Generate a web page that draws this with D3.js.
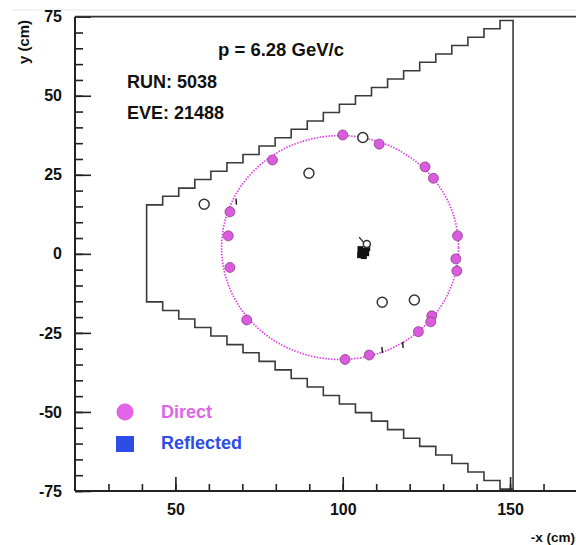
<!DOCTYPE html>
<html lang="en">
<head>
<meta charset="utf-8">
<title>RICH event display</title>
<script src="https://cdn.jsdelivr.net/npm/d3@7"></script>
<style>
  body { margin: 0; background: #fff; }
  text { font-family: "Liberation Sans", Arial, sans-serif; font-weight: bold; }
</style>
</head>
<body>
<script>

// detector outline (cm): riser positions and step levels
var stepX = [41.4, 46.2, 51.0, 55.8, 60.6, 65.4, 70.2, 75.0, 79.8, 84.6, 89.4, 94.2,
             99.0, 103.8, 108.6, 113.4, 118.2, 123.0, 127.8, 132.6, 137.4, 142.2, 147.0];
var topY  = [15.5, 18.2, 20.8, 23.5, 26.1, 28.8, 31.4, 34.1, 36.7, 39.4, 42.0, 44.7,
             47.3, 50.0, 52.6, 55.3, 57.9, 60.6, 63.2, 65.9, 68.5, 71.2, 73.8];
var botY  = [-15.2, -17.9, -20.6, -23.3, -26.0, -28.7, -31.3, -34.0, -36.7, -39.4, -42.1, -44.8,
             -47.5, -50.2, -52.9, -55.6, -58.3, -60.9, -63.6, -66.3, -69.0, -71.7, -74.4];
var rightWall = 150.9;

// fitted ring
var ring = { cx: 99.2, cy: 2.0, r: 35.4 };

// hits on the ring (direct photons)
var directX = [100.0, 110.9, 79.0, 124.6, 127.1, 66.3, 65.8, 134.3, 66.3, 133.8, 134.1,
               126.6, 126.3, 122.6, 71.3, 100.7, 107.9];
var directY = [37.6, 34.7, 29.7, 27.5, 23.9, 13.3, 5.7, 5.7, -4.3, -1.6, -5.4,
               -19.6, -21.5, -24.6, -20.9, -33.4, -32.0];

// other hits (open circles)
var otherX = [106.0, 89.9, 58.6, 111.8, 121.4, 107.2];
var otherY = [36.8, 25.5, 15.7, -15.3, -14.6, 3.1];

// track impact region (black hits)
var trackX = [105.3, 106.6, 105.6, 107.3, 106.3, 105.2, 107.0];
var trackY = [1.5, 0.9, 0.0, 1.8, -0.7, -0.4, 0.2];

// small noise strokes
var noiseX = [68.1, 111.7, 117.9];
var noiseY = [16.5, -30.4, -28.8];

var labels = ["p = 6.28 GeV/c", "RUN: 5038", "EVE: 21488"];
var legendNames = ["Direct", "Reflected"];
var legendColors = ["#e264e6", "#2d4de6"];

var W = 576, H = 545;
var x = d3.scaleLinear().domain([20, 170]).range([75, 577]);
var y = d3.scaleLinear().domain([-75, 75]).range([491, 16.7]);

var svg = d3.select("body").append("svg")
    .attr("width", W).attr("height", H);

// faint border of the scanned figure
svg.append("line").attr("x1", 12).attr("x2", W).attr("y1", 10).attr("y2", 10)
    .attr("stroke", "#e6e6e6").attr("stroke-width", 1);

// outline path
var pts = [[stepX[0], botY[0]], [stepX[0], topY[0]]];
for (var i = 1; i < stepX.length; i++) {
  pts.push([stepX[i], topY[i - 1]]);
  pts.push([stepX[i], topY[i]]);
}
pts.push([rightWall, topY[topY.length - 1]]);
pts.push([rightWall, botY[botY.length - 1]]);
for (var j = stepX.length - 1; j >= 1; j--) {
  pts.push([stepX[j], botY[j]]);
  pts.push([stepX[j], botY[j - 1]]);
}
var line = d3.line().x(function(d) { return x(d[0]); }).y(function(d) { return y(d[1]); });
svg.append("path")
    .attr("d", line(pts) + "Z")
    .attr("fill", "none")
    .attr("stroke", "#3a3a3a")
    .attr("stroke-width", 1.6);

// ring
svg.append("ellipse")
    .attr("cx", x(ring.cx)).attr("cy", y(ring.cy))
    .attr("rx", x(ring.cx + ring.r) - x(ring.cx))
    .attr("ry", y(ring.cy) - y(ring.cy + ring.r))
    .attr("fill", "none")
    .attr("stroke", "#e040e6")
    .attr("stroke-width", 1.7)
    .attr("stroke-dasharray", "1.5,1.4");

// noise strokes
svg.selectAll("line.noise").data(noiseX).enter().append("line")
    .attr("class", "noise")
    .attr("x1", function(d) { return x(d); })
    .attr("x2", function(d) { return x(d) + 0.5; })
    .attr("y1", function(d, i) { return y(noiseY[i]) - 3; })
    .attr("y2", function(d, i) { return y(noiseY[i]) + 3; })
    .attr("stroke", "#222").attr("stroke-width", 1.5);

// track hits
svg.selectAll("rect.track").data(trackX).enter().append("rect")
    .attr("class", "track")
    .attr("x", function(d) { return x(d) - 3; })
    .attr("y", function(d, i) { return y(trackY[i]) - 3; })
    .attr("width", 6).attr("height", 6)
    .attr("fill", "#111");
svg.append("line")
    .attr("x1", x(104.9)).attr("y1", y(5.3)).attr("x2", x(106.4)).attr("y2", y(3.4))
    .attr("stroke", "#222").attr("stroke-width", 1.3);

// open circles
svg.selectAll("circle.other").data(otherX).enter().append("circle")
    .attr("class", "other")
    .attr("cx", function(d) { return x(d); })
    .attr("cy", function(d, i) { return y(otherY[i]); })
    .attr("r", function(d, i) { return i === otherX.length - 1 ? 3.5 : 5; })
    .attr("fill", "#fff")
    .attr("stroke", "#333")
    .attr("stroke-width", 1.5);

// direct hits
svg.selectAll("circle.direct").data(directX).enter().append("circle")
    .attr("class", "direct")
    .attr("cx", function(d) { return x(d); })
    .attr("cy", function(d, i) { return y(directY[i]); })
    .attr("r", 5)
    .attr("fill", "#dc5ade")
    .attr("stroke", "#7a3a7a")
    .attr("stroke-width", 0.7);

// axes
var plain = function(d) { return String(d); };
var yMajor = d3.axisLeft(y).tickValues(d3.range(-75, 76, 25)).tickSize(-16).tickFormat(plain);
var yMinor = d3.axisLeft(y).tickValues(d3.range(-75, 76, 5)).tickSize(-8).tickFormat("");
var xMajor = d3.axisBottom(x).tickValues([50, 100, 150]).tickSize(-14).tickPadding(13)
    .tickFormat(plain);
var xMinor = d3.axisBottom(x).tickValues(d3.range(30, 170, 10)).tickSize(-7).tickFormat("");

function styleAxis(g) {
  g.select(".domain").remove();
  g.selectAll("line").attr("stroke", "#222").attr("stroke-width", 1.6);
  g.selectAll("text").attr("fill", "#111").style("font-size", "16px").style("font-weight", "bold");
}
svg.append("g").attr("transform", "translate(75,0)").call(yMinor).call(styleAxis);
svg.append("g").attr("transform", "translate(75,0)").call(yMajor).call(styleAxis)
    .selectAll("text").attr("text-anchor", "end").attr("x", -13);
svg.append("g").attr("transform", "translate(0,491)").call(xMinor).call(styleAxis);
svg.append("g").attr("transform", "translate(0,491)").call(xMajor).call(styleAxis);

// frame lines
svg.append("line").attr("x1", 75).attr("x2", W).attr("y1", 16.7).attr("y2", 16.7)
    .attr("stroke", "#333").attr("stroke-width", 1.8);
svg.append("line").attr("x1", 75).attr("x2", W).attr("y1", 491).attr("y2", 491)
    .attr("stroke", "#222").attr("stroke-width", 2);
svg.append("line").attr("x1", 75).attr("x2", 75).attr("y1", 16.7).attr("y2", 491)
    .attr("stroke", "#222").attr("stroke-width", 2);

// axis titles
svg.append("text").attr("x", 575).attr("y", 542).attr("text-anchor", "end")
    .style("font-size", "13.5px").attr("fill", "#111").text("-x (cm)");
svg.append("text").attr("transform", "translate(29,42) rotate(-90)")
    .attr("text-anchor", "middle").style("font-size", "15px").attr("fill", "#111").text("y (cm)");

// event info
svg.append("text").attr("x", 218).attr("y", 56).style("font-size", "18.5px").attr("fill", "#111").text(labels[0]);
svg.append("text").attr("x", 127).attr("y", 88).style("font-size", "18px").attr("fill", "#111").text(labels[1]);
svg.append("text").attr("x", 127).attr("y", 119).style("font-size", "18px").attr("fill", "#111").text(labels[2]);

// legend
var leg = svg.append("g");
leg.append("circle").attr("cx", 125).attr("cy", 412).attr("r", 8.5).attr("fill", legendColors[0]);
leg.append("rect").attr("x", 116).attr("y", 436).attr("width", 18).attr("height", 16).attr("fill", legendColors[1]);
leg.selectAll("text").data(legendNames).enter().append("text")
    .attr("x", 161)
    .attr("y", function(d, i) { return 418 + i * 31; })
    .style("font-size", "18px")
    .attr("fill", function(d, i) { return legendColors[i]; })
    .text(function(d) { return d; });

</script>
</body>
</html>
